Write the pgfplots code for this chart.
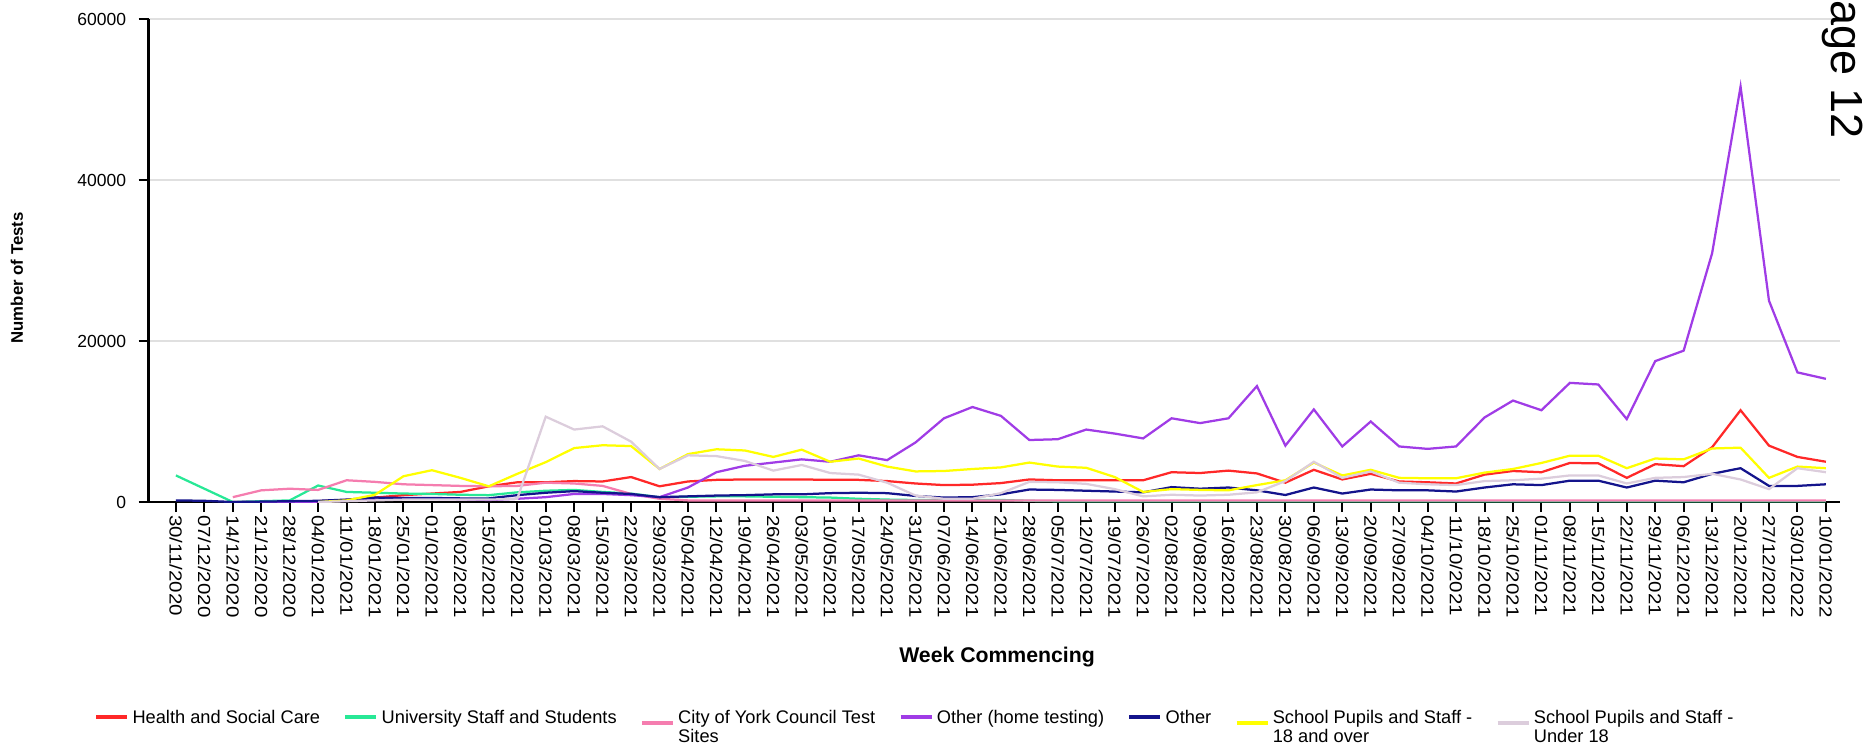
\documentclass[border=0pt]{standalone}
\usepackage{fontspec}
\setmainfont{Liberation Sans}
\usepackage{graphicx}
\usepackage{pgfplots}
\pgfplotsset{compat=1.18}
\usepackage{pgfplotstable}

\definecolor{chsc}{RGB}{255,40,40}
\definecolor{cuni}{RGB}{40,232,150}
\definecolor{ccyc}{RGB}{245,125,175}
\definecolor{chome}{RGB}{160,60,230}
\definecolor{coth}{RGB}{20,20,140}
\definecolor{cy18}{RGB}{255,255,0}
\definecolor{cu18}{RGB}{220,205,220}

\newcommand\xl[1]{\scalebox{1.17}[1]{#1}}
\newcommand\two[2]{\begin{tabular}[t]{@{}l@{}}#1\\#2\end{tabular}}
\pgfplotsset{twoline/.style={legend image code/.code={\draw[##1, line width=1.8pt] (0pt,0.3pt) -- (12.4pt,0.3pt);}}}

\pgfplotstableread{
i  hsc   uni  cyc  home  oth  yo   yu
0  nan   3300 nan  nan   200  nan  nan
1  nan   1650 nan  nan   150  nan  nan
2  0     0    600  0     0    nan  nan
3  0     100  1450 0     50   nan  nan
4  50    200  1650 0     100  nan  nan
5  100   2050 1500 50    150  0    0
6  250   1250 2700 150   300  200  100
7  550   1150 2500 300   550  900  200
8  850   1050 2200 400   500  3200 300
9  1050  1000 2100 400   500  3950 300
10 1250  900  2000 350   450  3000 300
11 1950  850  1950 250   450  1950 300
12 2450  1200 2000 400   850  3500 400
13 2450  1400 2400 600   1150 4950 10600
14 2600  1500 2300 1000  1350 6700 9000
15 2550  1250 2000 1000  1150 7050 9400
16 3100  1050 1000 850   1000 6950 7500
17 1950  600  400  600   600  4100 4100
18 2550  650  200  1800  700  5950 5800
19 2750  700  200  3700  800  6550 5700
20 2800  700  200  4500  850  6400 5100
21 2800  650  200  4900  950  5600 3900
22 2800  600  200  5300  950  6500 4600
23 2750  550  200  5000  1100 5000 3600
24 2750  400  200  5800  1150 5400 3400
25 2600  300  200  5200  1100 4400 2400
26 2300  250  200  7400  750  3800 800
27 2100  250  200  10400 550  3850 400
28 2150  250  200  11800 600  4100 400
29 2350  250  200  10700 950  4300 1100
30 2800  150  200  7700  1550 4900 2500
31 2700  100  200  7800  1500 4400 2450
32 2700  100  200  9000  1400 4250 2250
33 2700  100  200  8500  1300 3100 1600
34 2700  100  200  7900  1200 1250 700
35 3700  100  200  10400 1850 1600 900
36 3600  100  200  9800  1650 1500 800
37 3900  100  200  10400 1800 1450 900
38 3550  100  200  14400 1450 2100 1200
39 2400  100  200  7000  870  2700 2600
40 4000  100  200  11500 1800 4900 5000
41 2800  100  200  6900  1050 3300 3000
42 3500  100  200  10000 1550 4000 3800
43 2550  100  200  6900  1450 3000 2400
44 2450  100  200  6600  1450 2950 2200
45 2300  100  200  6900  1300 2950 2100
46 3400  100  200  10500 1800 3650 2600
47 3850  100  200  12600 2200 4100 2700
48 3700  100  200  11400 2100 4850 2900
49 4850  100  200  14800 2650 5750 3300
50 4800  100  200  14600 2650 5750 3300
51 3000  100  200  10300 1800 4200 2300
52 4700  100  200  17500 2650 5400 3000
53 4450  100  200  18800 2450 5300 3100
54 6800  100  200  30900 3500 6650 3500
55 11400 100  200  51600 4200 6750 2800
56 7000  100  200  25000 2000 3000 1600
57 5600  100  200  16100 2000 4400 4200
58 5000  100  200  15300 2200 4200 3700
}\datatable

\begin{document}
\begin{tikzpicture}
\useasboundingbox (0,0) rectangle (745.6pt,297.2pt);
\begin{axis}[
  at={(59.44pt,96.4pt)}, anchor=south west,
  scale only axis, width=676.6pt, height=193.2pt,
  xmin=-0.96, xmax=58.5, ymin=0, ymax=60000,
  axis x line*=bottom, axis y line*=left,
  axis line style={black, line width=0.9pt},
  xtick={0,...,58},
  xticklabels={\xl{30/11/2020},\xl{07/12/2020},\xl{14/12/2020},\xl{21/12/2020},\xl{28/12/2020},\xl{04/01/2021},\xl{11/01/2021},\xl{18/01/2021},\xl{25/01/2021},\xl{01/02/2021},\xl{08/02/2021},\xl{15/02/2021},\xl{22/02/2021},\xl{01/03/2021},\xl{08/03/2021},\xl{15/03/2021},\xl{22/03/2021},\xl{29/03/2021},\xl{05/04/2021},\xl{12/04/2021},\xl{19/04/2021},\xl{26/04/2021},\xl{03/05/2021},\xl{10/05/2021},\xl{17/05/2021},\xl{24/05/2021},\xl{31/05/2021},\xl{07/06/2021},\xl{14/06/2021},\xl{21/06/2021},\xl{28/06/2021},\xl{05/07/2021},\xl{12/07/2021},\xl{19/07/2021},\xl{26/07/2021},\xl{02/08/2021},\xl{09/08/2021},\xl{16/08/2021},\xl{23/08/2021},\xl{30/08/2021},\xl{06/09/2021},\xl{13/09/2021},\xl{20/09/2021},\xl{27/09/2021},\xl{04/10/2021},\xl{11/10/2021},\xl{18/10/2021},\xl{25/10/2021},\xl{01/11/2021},\xl{08/11/2021},\xl{15/11/2021},\xl{22/11/2021},\xl{29/11/2021},\xl{06/12/2021},\xl{13/12/2021},\xl{20/12/2021},\xl{27/12/2021},\xl{03/01/2022},\xl{10/01/2022}},
  xticklabel style={rotate=-90, anchor=west, font=\fontsize{7}{8}\selectfont, inner sep=1pt},
  ytick={0,20000,40000,60000},
  yticklabel style={font=\fontsize{7}{8}\selectfont, xshift=-1.5pt, /pgf/number format/assume math mode=true, /pgf/number format/1000 sep={}},
  scaled y ticks=false,
  tick align=outside, major tick length=4pt,
  tick style={black, line width=0.8pt},
  ymajorgrids, grid style={black!12, line width=0.7pt},
  xlabel={Week Commencing}, ylabel={Number of Tests},
  xlabel style={font=\bfseries\fontsize{8.5}{10}\selectfont, at={(axis description cs:0.5016,-0.320)}, anchor=center},
  ylabel style={font=\bfseries\fontsize{6.7}{8}\selectfont, at={(axis description cs:-0.0778,0.464)}, anchor=center},
  unbounded coords=jump,
  legend columns=7,
  legend style={draw=none, fill=none, at={(axis description cs:-0.037,-0.414)}, anchor=north west,
    font=\fontsize{7.3}{7.3}\selectfont, cells={anchor=base west}, nodes={inner sep=1.2pt},
    /tikz/every even column/.append style={column sep=8pt}},
  legend image code/.code={\draw[#1, line width=1.8pt] (0pt,2.6pt) -- (12.4pt,2.6pt);},
  every axis plot/.append style={line width=0.9pt},
]
\addplot[chsc, no markers] table[x=i, y=hsc] {\datatable};
\addlegendentry{Health and Social Care}
\addplot[cuni, no markers] table[x=i, y=uni] {\datatable};
\addlegendentry{University Staff and Students}
\addplot[ccyc, no markers, twoline] table[x=i, y=cyc] {\datatable};
\addlegendentry{\two{City of York Council Test}{Sites}}
\addplot[chome, no markers] table[x=i, y=home] {\datatable};
\addlegendentry{Other (home testing)}
\addplot[coth, no markers] table[x=i, y=oth] {\datatable};
\addlegendentry{Other}
\addplot[cy18, no markers, twoline] table[x=i, y=yo] {\datatable};
\addlegendentry{\two{School Pupils and Staff -}{18 and over}}
\addplot[cu18, no markers, twoline] table[x=i, y=yu] {\datatable};
\addlegendentry{\two{School Pupils and Staff -}{Under 18}}
\end{axis}
\node[rotate=-90, anchor=base west, font=\fontsize{18}{20}\selectfont, inner sep=0pt] at (732.4pt,309.2pt) {Page 12};
\end{tikzpicture}
\end{document}
